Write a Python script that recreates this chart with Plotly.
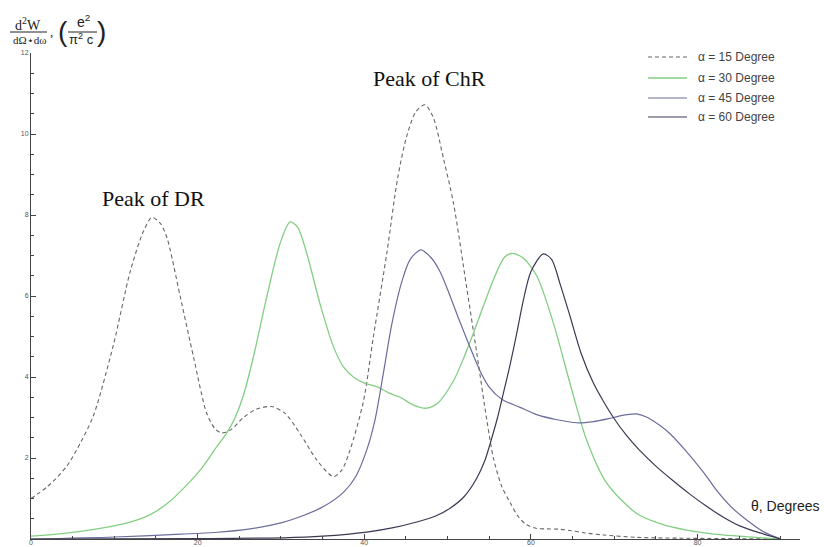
import plotly.graph_objects as go

# ---- data ----
x15 = [0, 2, 4.3, 6, 7.5, 9.9, 11.9, 13.5, 14.5, 15.5, 16.3, 17.9, 19.5, 21.1, 22.1, 22.9, 24, 25.5, 27, 28.9,
       30.5, 32.3, 34.3, 36.3, 37.3, 38.3, 39.9, 41.1, 42.7, 44, 45.1, 46.2, 47.3, 48.3, 49.5, 50.7, 52.3,
       53.5, 54.7, 55.5, 56.5, 57.5, 58.5, 59.5, 60.7, 62, 63.5, 64.7, 66.5, 68.7, 72.7, 78, 90]
y15 = [1.0, 1.3, 1.8, 2.4, 3.05, 4.8, 6.6, 7.6, 7.94, 7.8, 7.45, 6.0, 4.5, 3.1, 2.72, 2.62, 2.7, 3.0, 3.2, 3.27,
       3.1, 2.6, 1.95, 1.54, 1.7, 2.2, 3.4, 5.0, 7.05, 8.9, 9.95, 10.55, 10.72, 10.4, 9.4, 8.3, 6.2,
       4.6, 2.95, 2.0, 1.3, 0.9, 0.55, 0.35, 0.26, 0.25, 0.24, 0.21, 0.15, 0.1, 0.04, 0.02, 0.0]

x30 = [0, 4, 8.3, 12, 14.3, 16.5, 18.3, 20.5, 22.3, 23.5, 24.5, 25.5, 26.7, 28.3, 29.9, 31.1, 32, 33.1, 34.7,
       36.3, 37.5, 38.7, 40, 41.5, 43, 44.3, 46, 47.5, 48.8, 50.7, 52, 53.1, 55.5, 56.8, 57.7, 59, 60.7,
       62.7, 64.7, 66.7, 69.1, 72.7, 75.5, 78.7, 83, 87, 90]
y30 = [0.07, 0.14, 0.26, 0.42, 0.6, 0.9, 1.25, 1.75, 2.28, 2.62, 3.0, 3.55, 4.5, 5.98, 7.3, 7.83, 7.7, 7.05, 5.8,
       4.75, 4.25, 4.0, 3.85, 3.76, 3.6, 3.5, 3.3, 3.23, 3.35, 3.9, 4.5, 5.08, 6.4, 6.95, 7.05, 6.95, 6.5,
       5.33, 3.84, 2.44, 1.38, 0.63, 0.38, 0.22, 0.1, 0.04, 0.0]

x45 = [0, 10, 18, 22, 26.3, 30, 32.3, 35.1, 37.5, 39, 40.3, 41.3, 42.3, 43.3, 44.5, 45.5, 46.8, 48, 49.1,
       50.3, 51.5, 53.9, 55, 56.5, 58.7, 60.7, 63, 65.5, 67.5, 69.9, 71.5, 72.7, 74, 75.5, 76.7, 78.5,
       80.7, 82.3, 84, 85.9, 88, 90]
y45 = [0.0, 0.05, 0.12, 0.16, 0.25, 0.4, 0.55, 0.8, 1.15, 1.55, 2.2, 2.95, 4.1, 5.3, 6.35, 6.9, 7.14, 6.95, 6.6,
       6.0, 5.35, 4.15, 3.75, 3.45, 3.25, 3.07, 2.95, 2.87, 2.9, 3.0, 3.07, 3.09, 3.0, 2.8, 2.6, 2.2,
       1.65, 1.2, 0.8, 0.47, 0.17, 0.0]

x60 = [0, 20, 30.3, 35, 40.3, 43.5, 46.3, 48.5, 50.3, 52, 53.5, 54.5, 55.1, 56, 56.7, 57.5, 58.3, 59.1, 60,
       61.5, 62.5, 63.5, 64.7, 66, 67.5, 68.7, 69.9, 71.5, 73, 75, 77, 79, 81, 83, 85, 87.5, 90]
y60 = [0.0, 0.01, 0.03, 0.07, 0.17, 0.28, 0.42, 0.56, 0.76, 1.05, 1.5, 1.95, 2.35, 3.0, 3.6, 4.3, 5.08, 5.9, 6.6,
       7.04, 6.9, 6.3, 5.5, 4.6, 3.85, 3.4, 3.0, 2.55, 2.2, 1.8, 1.45, 1.12, 0.82, 0.55, 0.33, 0.15, 0.0]

series_names = ["α = 15 Degree", "α = 30 Degree", "α = 45 Degree", "α = 60 Degree"]
x_ticks = [0, 20, 40, 60, 80]
x_ticklabels = ["0", "20", "40", "60", "80"]
y_ticks = [2, 4, 6, 8, 10, 12]
y_ticklabels = ["2", "4", "6", "8", "10", "12"]

# ---- layout geometry (page pixels) ----
W, H = 824, 547
AX_L, AX_R, AX_T, AX_B = 31, 800, 53, 539   # plot area
L, T, R, B = AX_L, AX_T, W - AX_R, H - AX_B
PW, PH = AX_R - AX_L, AX_B - AX_T


def px(xp):
    return (xp - AX_L) / PW


def py(yp):
    return (AX_B - yp) / PH


fig = go.Figure()
styles = [
    dict(color="#666666", width=1.1, dash="4px,3px"),
    dict(color="#82cf82", width=1.3),
    dict(color="#6c6c9c", width=1.2),
    dict(color="#3a3a52", width=1.2),
]
for xs, ys, nm, st in zip([x15, x30, x45, x60], [y15, y30, y45, y60], series_names, styles):
    fig.add_trace(go.Scatter(x=xs, y=ys, mode="lines", name=nm, showlegend=False,
                             line=dict(shape="spline", smoothing=0.8, **st)))

axis_font = dict(family="Liberation Sans", size=7, color="#555555")
fig.update_xaxes(range=[0, 92.3], showgrid=False, zeroline=False, showline=True, automargin=False,
                 linecolor="#444444", linewidth=1, ticks="inside", ticklen=5, tickcolor="#444444",
                 tickvals=x_ticks, ticktext=x_ticklabels, tickfont=axis_font, ticklabelstandoff=-3,
                 minor=dict(ticks="inside", dtick=5, ticklen=3, tickcolor="#444444"))
fig.update_yaxes(range=[0, 12], showgrid=False, zeroline=False, showline=True, automargin=False,
                 linecolor="#444444", linewidth=1, ticks="inside", ticklen=5, tickcolor="#444444",
                 tickvals=y_ticks, ticktext=y_ticklabels, tickfont=axis_font,
                 minor=dict(ticks="inside", dtick=0.5, ticklen=3, tickcolor="#444444"))

ann = []
shapes = []
serif = "Liberation Serif"
sans = "Liberation Sans"
# y-axis label as fraction
ann.append(dict(x=px(28), y=py(24), text="d<sup>2</sup>W", font=dict(family=serif, size=14, color="#222")))
shapes.append(dict(type="line", xref="paper", yref="paper", x0=px(10), x1=px(47), y0=py(32), y1=py(32),
                   line=dict(color="#222", width=1)))
ann.append(dict(x=px(29), y=py(40), text="dΩ⋆dω", font=dict(family=serif, size=11, color="#222")))
ann.append(dict(x=px(51), y=py(31), text=",", font=dict(family=serif, size=13, color="#222")))
ann.append(dict(x=px(63), y=py(31), text="(", font=dict(family=sans, size=28, color="#222")))
ann.append(dict(x=px(83), y=py(21), text="e<sup>2</sup>", font=dict(family=sans, size=14, color="#222")))
shapes.append(dict(type="line", xref="paper", yref="paper", x0=px(68), x1=px(97), y0=py(32), y1=py(32),
                   line=dict(color="#222", width=1)))
ann.append(dict(x=px(81), y=py(39), text="π<sup>2</sup> c", font=dict(family=sans, size=13, color="#222")))
ann.append(dict(x=px(101), y=py(31), text=")", font=dict(family=sans, size=28, color="#222")))
for a in ann:
    a.update(xanchor="center")
# x-axis label
ann.append(dict(x=px(821), y=py(506), text="θ, Degrees", xanchor="right",
                font=dict(family=sans, size=14, color="#222")))
# peak labels
ann.append(dict(x=px(153), y=py(198), text="Peak of DR", xanchor="center",
                font=dict(family=serif, size=22, color="#111")))
ann.append(dict(x=px(429), y=py(79), text="Peak of ChR", xanchor="center",
                font=dict(family=serif, size=22, color="#111")))

# legend (drawn manually to match the reference layout)
legend_rows = [57, 78, 98, 117]
for nm, st, ry in zip(series_names, styles, legend_rows):
    shapes.append(dict(type="line", xref="paper", yref="paper", x0=px(648), x1=px(687), y0=py(ry), y1=py(ry),
                       line=dict(color=st["color"], width=st["width"], dash=st.get("dash", "solid"))))
    ann.append(dict(x=px(696), y=py(ry), text=nm, xanchor="left",
                    font=dict(family=sans, size=12, color="#444444")))

for a in ann:
    a.update(xref="paper", yref="paper", showarrow=False, yanchor="middle")

fig.update_layout(
    width=W, height=H,
    margin=dict(l=L, r=R, t=T, b=B, autoexpand=False),
    paper_bgcolor="white", plot_bgcolor="white",
    showlegend=False,
    annotations=ann, shapes=shapes,
)
fig.write_html("out.html", config={"displayModeBar": False},
               post_script="document.body.style.margin='0';document.body.style.overflow='hidden';")
